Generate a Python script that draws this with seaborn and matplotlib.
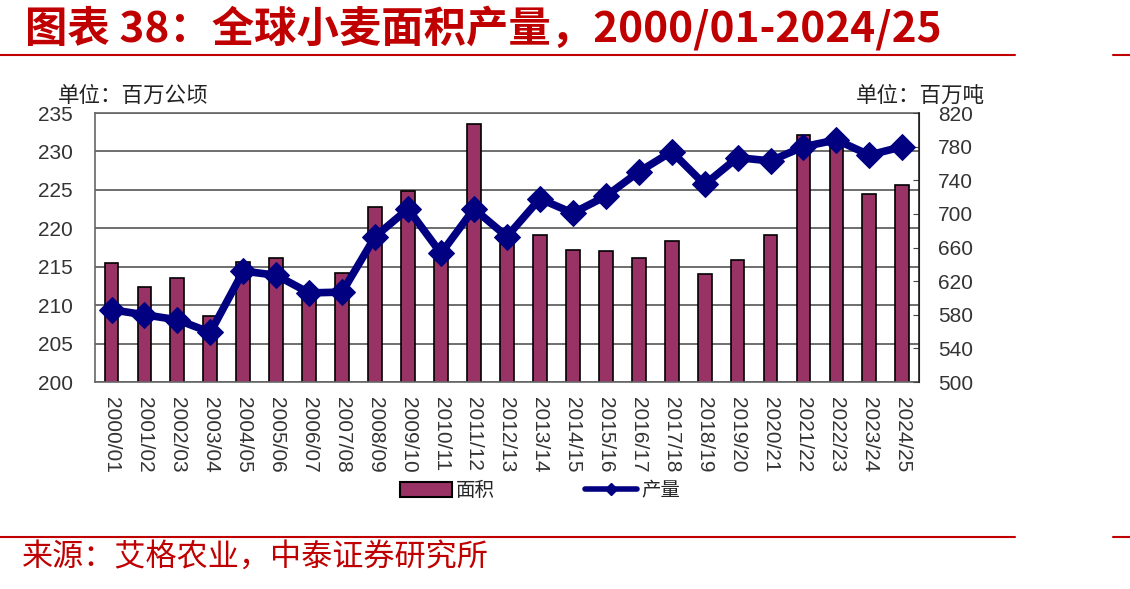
import numpy as np
import pandas as pd
import seaborn as sns
import matplotlib.pyplot as plt
from matplotlib.lines import Line2D

seasons = ['2000/01', '2001/02', '2002/03', '2003/04', '2004/05', '2005/06', '2006/07',
           '2007/08', '2008/09', '2009/10', '2010/11', '2011/12', '2012/13', '2013/14',
           '2014/15', '2015/16', '2016/17', '2017/18', '2018/19', '2019/20', '2020/21',
           '2021/22', '2022/23', '2023/24', '2024/25']
area = [215.5, 212.3, 213.5, 208.6, 215.6, 216.2, 211.5, 214.2, 222.8, 224.9, 216.0,
        233.6, 218.0, 219.1, 217.2, 217.0, 216.2, 218.4, 214.0, 215.9, 219.1, 232.1,
        231.0, 224.5, 225.6]
output = [586, 580, 574, 559, 632, 627, 606, 607, 673, 706, 653, 706, 673, 718, 701,
          721, 750, 774, 735, 767, 763, 780, 788, 770, 780]

red = '#C00000'
bar_color = '#993366'
line_color = '#000080'
num_font = ['Liberation Sans', 'Noto Sans CJK SC']

sns.set_style('white')
plt.rcParams['font.family'] = ['Noto Sans CJK SC', 'DejaVu Sans']

df = pd.DataFrame({'season': seasons, 'area': area, 'output': output,
                   'pos': np.arange(len(seasons))})

fig = plt.figure(figsize=(11.3, 5.89), dpi=100)
ax = fig.add_axes([0.0841, 0.3514, 0.729, 0.4567])

sns.barplot(data=df, x='season', y='area', color=bar_color, width=0.42,
            edgecolor='black', linewidth=1.2, saturation=1, ax=ax, zorder=2)
ax.set_ylim(200, 235)
ax.set_yticks(np.arange(200, 236, 5))
ax.yaxis.grid(True, color='#555555', linewidth=1.2, zorder=0)
ax.set_axisbelow(True)
ax.set_xlim(-0.5, len(seasons) - 0.5)
ax.set_xlabel('')
ax.set_ylabel('')
ax.tick_params(axis='y', length=0, pad=16, labelcolor='#333333')
ax.tick_params(axis='x', length=0, pad=11, labelcolor='#333333')
ax.set_xticks(df['pos'])
ax.set_xticklabels(seasons, rotation=-90)
ax.set_xticks(df['pos'][:-1] + 0.5, minor=True)
ax.tick_params(axis='x', which='minor', direction='in', length=4, color='#666666')
for lab in ax.get_yticklabels():
    lab.set_fontfamily(num_font)
    lab.set_fontsize(15)
for lab in ax.get_xticklabels():
    lab.set_fontfamily(num_font)
    lab.set_fontsize(15)
for s in ['left', 'top', 'bottom']:
    ax.spines[s].set_color('#666666')
    ax.spines[s].set_linewidth(1.2)

ax2 = ax.twinx()
sns.lineplot(data=df, x='pos', y='output', color=line_color, linewidth=5.5,
             marker='D', markersize=13, markeredgecolor=line_color, ax=ax2)
ax2.set_ylim(500, 820)
ax2.set_yticks(np.arange(500, 821, 40))
ax2.set_ylabel('')
ax2.set_xlabel('')
ax2.tick_params(axis='y', direction='in', length=4, pad=14,
                labelcolor='#333333', color='#444444')
for lab in ax2.get_yticklabels():
    lab.set_fontfamily(num_font)
    lab.set_fontsize(15)
ax2.spines['right'].set_color('#222222')
ax2.spines['right'].set_linewidth(1.2)
for s in ['left', 'top', 'bottom']:
    ax2.spines[s].set_visible(False)

fig.text(58 / 1130, 1 - 96 / 589, '单位：百万公顷', fontsize=15.5, color='#222222',
         ha='left', va='center')
fig.text(985 / 1130, 1 - 96 / 589, '单位：百万吨', fontsize=15.5, color='#222222',
         ha='right', va='center')

handles = [plt.Rectangle((0, 0), 1, 1, facecolor=bar_color, edgecolor='black', linewidth=1.5),
           Line2D([0], [0], color=line_color, linewidth=4, marker='D', markersize=6)]
fig.legend(handles, ['面积', '产量'], loc='center', bbox_to_anchor=(540 / 1130, 1 - 491 / 589),
           ncol=2, frameon=False, fontsize=14, handlelength=2.7, handleheight=0.8,
           columnspacing=4.6, handletextpad=0.2)

fig.text(25 / 1130, 1 - 28 / 589, '图表 38：全球小麦面积产量，2000/01-2024/25',
         fontsize=30.5, fontweight='bold', color=red, ha='left', va='center')
fig.text(22 / 1130, 1 - 557 / 589, '来源：艾格农业，中泰证券研究所',
         fontsize=22.4, color=red, ha='left', va='center')

for y in [55, 537]:
    fig.add_artist(Line2D([0, 1015 / 1130], [1 - y / 589] * 2, color=red, linewidth=1.5))
    fig.add_artist(Line2D([1113 / 1130, 1], [1 - y / 589] * 2, color=red, linewidth=1.5))

fig.savefig('out.png', dpi=100)
